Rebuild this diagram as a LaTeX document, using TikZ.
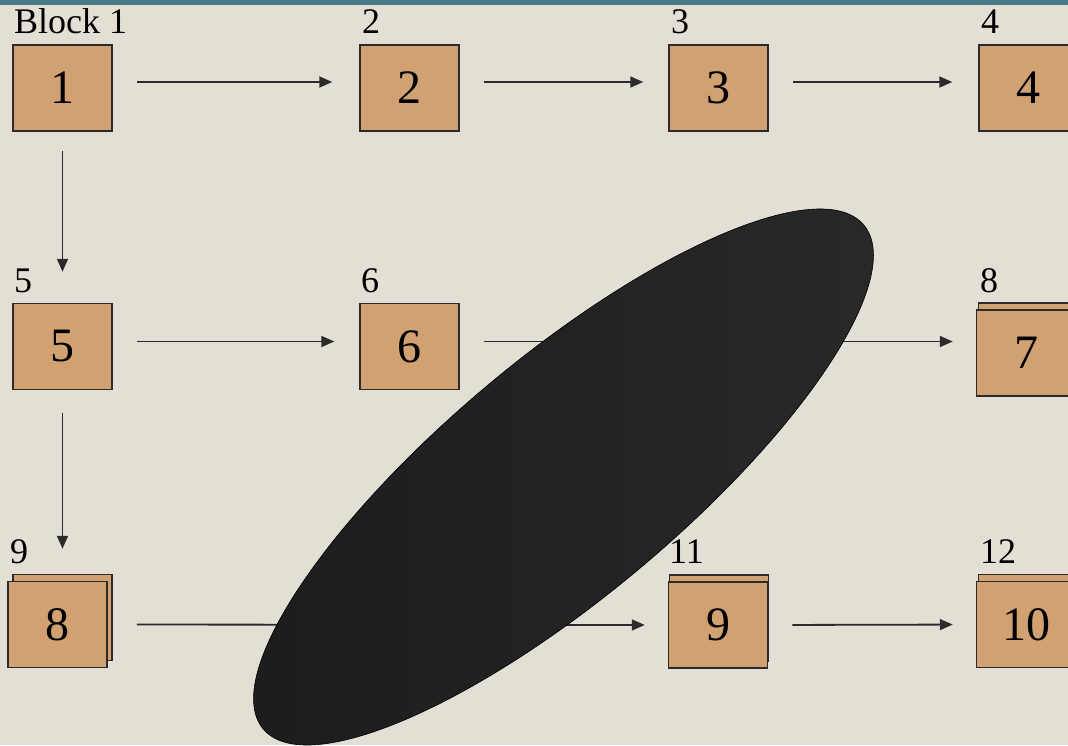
\documentclass[tikz,border=0pt]{standalone}
\usepackage{fontspec}
\setmainfont{Liberation Serif}
\newfontfamily\tmsfont{Liberation Serif}
\usetikzlibrary{arrows.meta, positioning, shadows}
\definecolor{paper}{HTML}{E4DFD5}
\definecolor{topbar}{HTML}{467A88}
\definecolor{blockfill}{HTML}{D1A172}
\definecolor{inkline}{HTML}{2B2B2B}

\begin{document}
\begin{tikzpicture}[x=1pt, y=-1pt,
  blk/.style={draw=inkline, fill=blockfill, line width=1.5pt, minimum width=99pt,
              minimum height=86pt, inner sep=0pt, font=\tmsfont\fontsize{48}{50}\selectfont},
  stack/.style={blk, copy shadow={draw=inkline, fill=blockfill, line width=1.5pt,
              shadow xshift=#1, shadow yshift=7pt}},
  lbl/.style={anchor=base west, inner sep=0pt, font=\tmsfont\fontsize{36}{38}\selectfont},
  arr/.style={draw=inkline, line width=1.8pt, -{Triangle[length=13pt, width=11pt]},
              shorten <=24pt, shorten >=25pt}
]
% ---- page ---------------------------------------------------------------
\clip (0,0) rectangle (1068,745);
\fill[paper] (0,0) rectangle (1068,745);
\fill[topbar] (0,0) rectangle (1068,5);

% ---- blocks -------------------------------------------------------------
\node[blk] (b1) at (62.5,88) {1};
\node[blk] (b2) at (409.5,88) {2};
\node[blk] (b3) at (718.5,88) {3};
\node[blk] (b4) at (1028.5,88) {4};
\node[blk] (b5) at (62.5,346.5) {5};
\node[blk] (b6) at (409.5,346.5) {6};
\node[stack=2pt] (b7) at (1026,353) {7};
\node[stack=5pt] (b8) at (57.5,624.5) {8};
\node[stack=1pt] (b9) at (718,625) {9};
\node[stack=2pt] (b10) at (1026,624.5) {10};

% ---- labels -------------------------------------------------------------
\node[lbl] (l1) at (14,33) {Block 1};
\node[lbl] (l2) at (362,33) {2};
\node[lbl] (l3) at (671,33) {3};
\node[lbl] (l4) at (981,33) {4};
\node[lbl] (l5) at (14,292) {5};
\node[lbl] (l6) at (361,292) {6};
\node[lbl] (l8) at (980,292) {8};
\node[lbl] (l9) at (10,563) {9};
\node[lbl] (l11) at (669,563) {11};
\node[lbl] (l12) at (980,563) {12};

% ---- connectors ---------------------------------------------------------
\draw[arr, shorten >=27pt] ([yshift=6pt]b1.east) -- ([yshift=6pt]b2.west);
\draw[arr] ([yshift=6pt]b2.east) -- ([yshift=6pt]b3.west);
\draw[arr, shorten >=26pt] ([yshift=6pt]b3.east) -- ([yshift=6pt]b4.west);
\draw[arr] ([yshift=5pt]b5.east) -- ([yshift=5pt]b6.west);
\coordinate (r2) at ([yshift=5pt]b6.east);
\draw[arr, shorten >=23pt] (r2) -- (r2 -| b7.west);
\draw[arr, shorten <=29pt, shorten >=23pt] (b8.east) -- (b9.west);
\draw[arr, shorten >=23pt] (b9.east) -- (b10.west);
\draw[arr, shorten <=19pt, shorten >=31pt] (b1.south) -- (b5.north);
\draw[arr, shorten <=23pt, shorten >=32pt] (b5.south) -- (b5.south |- b8.north);

% ---- blot ---------------------------------------------------------------
\shade[left color=black!89, right color=black!84, draw=black, line width=0.6pt,
       rotate around={40:(563.5,477)}] (563.5,477) ellipse [x radius=392, y radius=119];
\end{tikzpicture}
\end{document}
